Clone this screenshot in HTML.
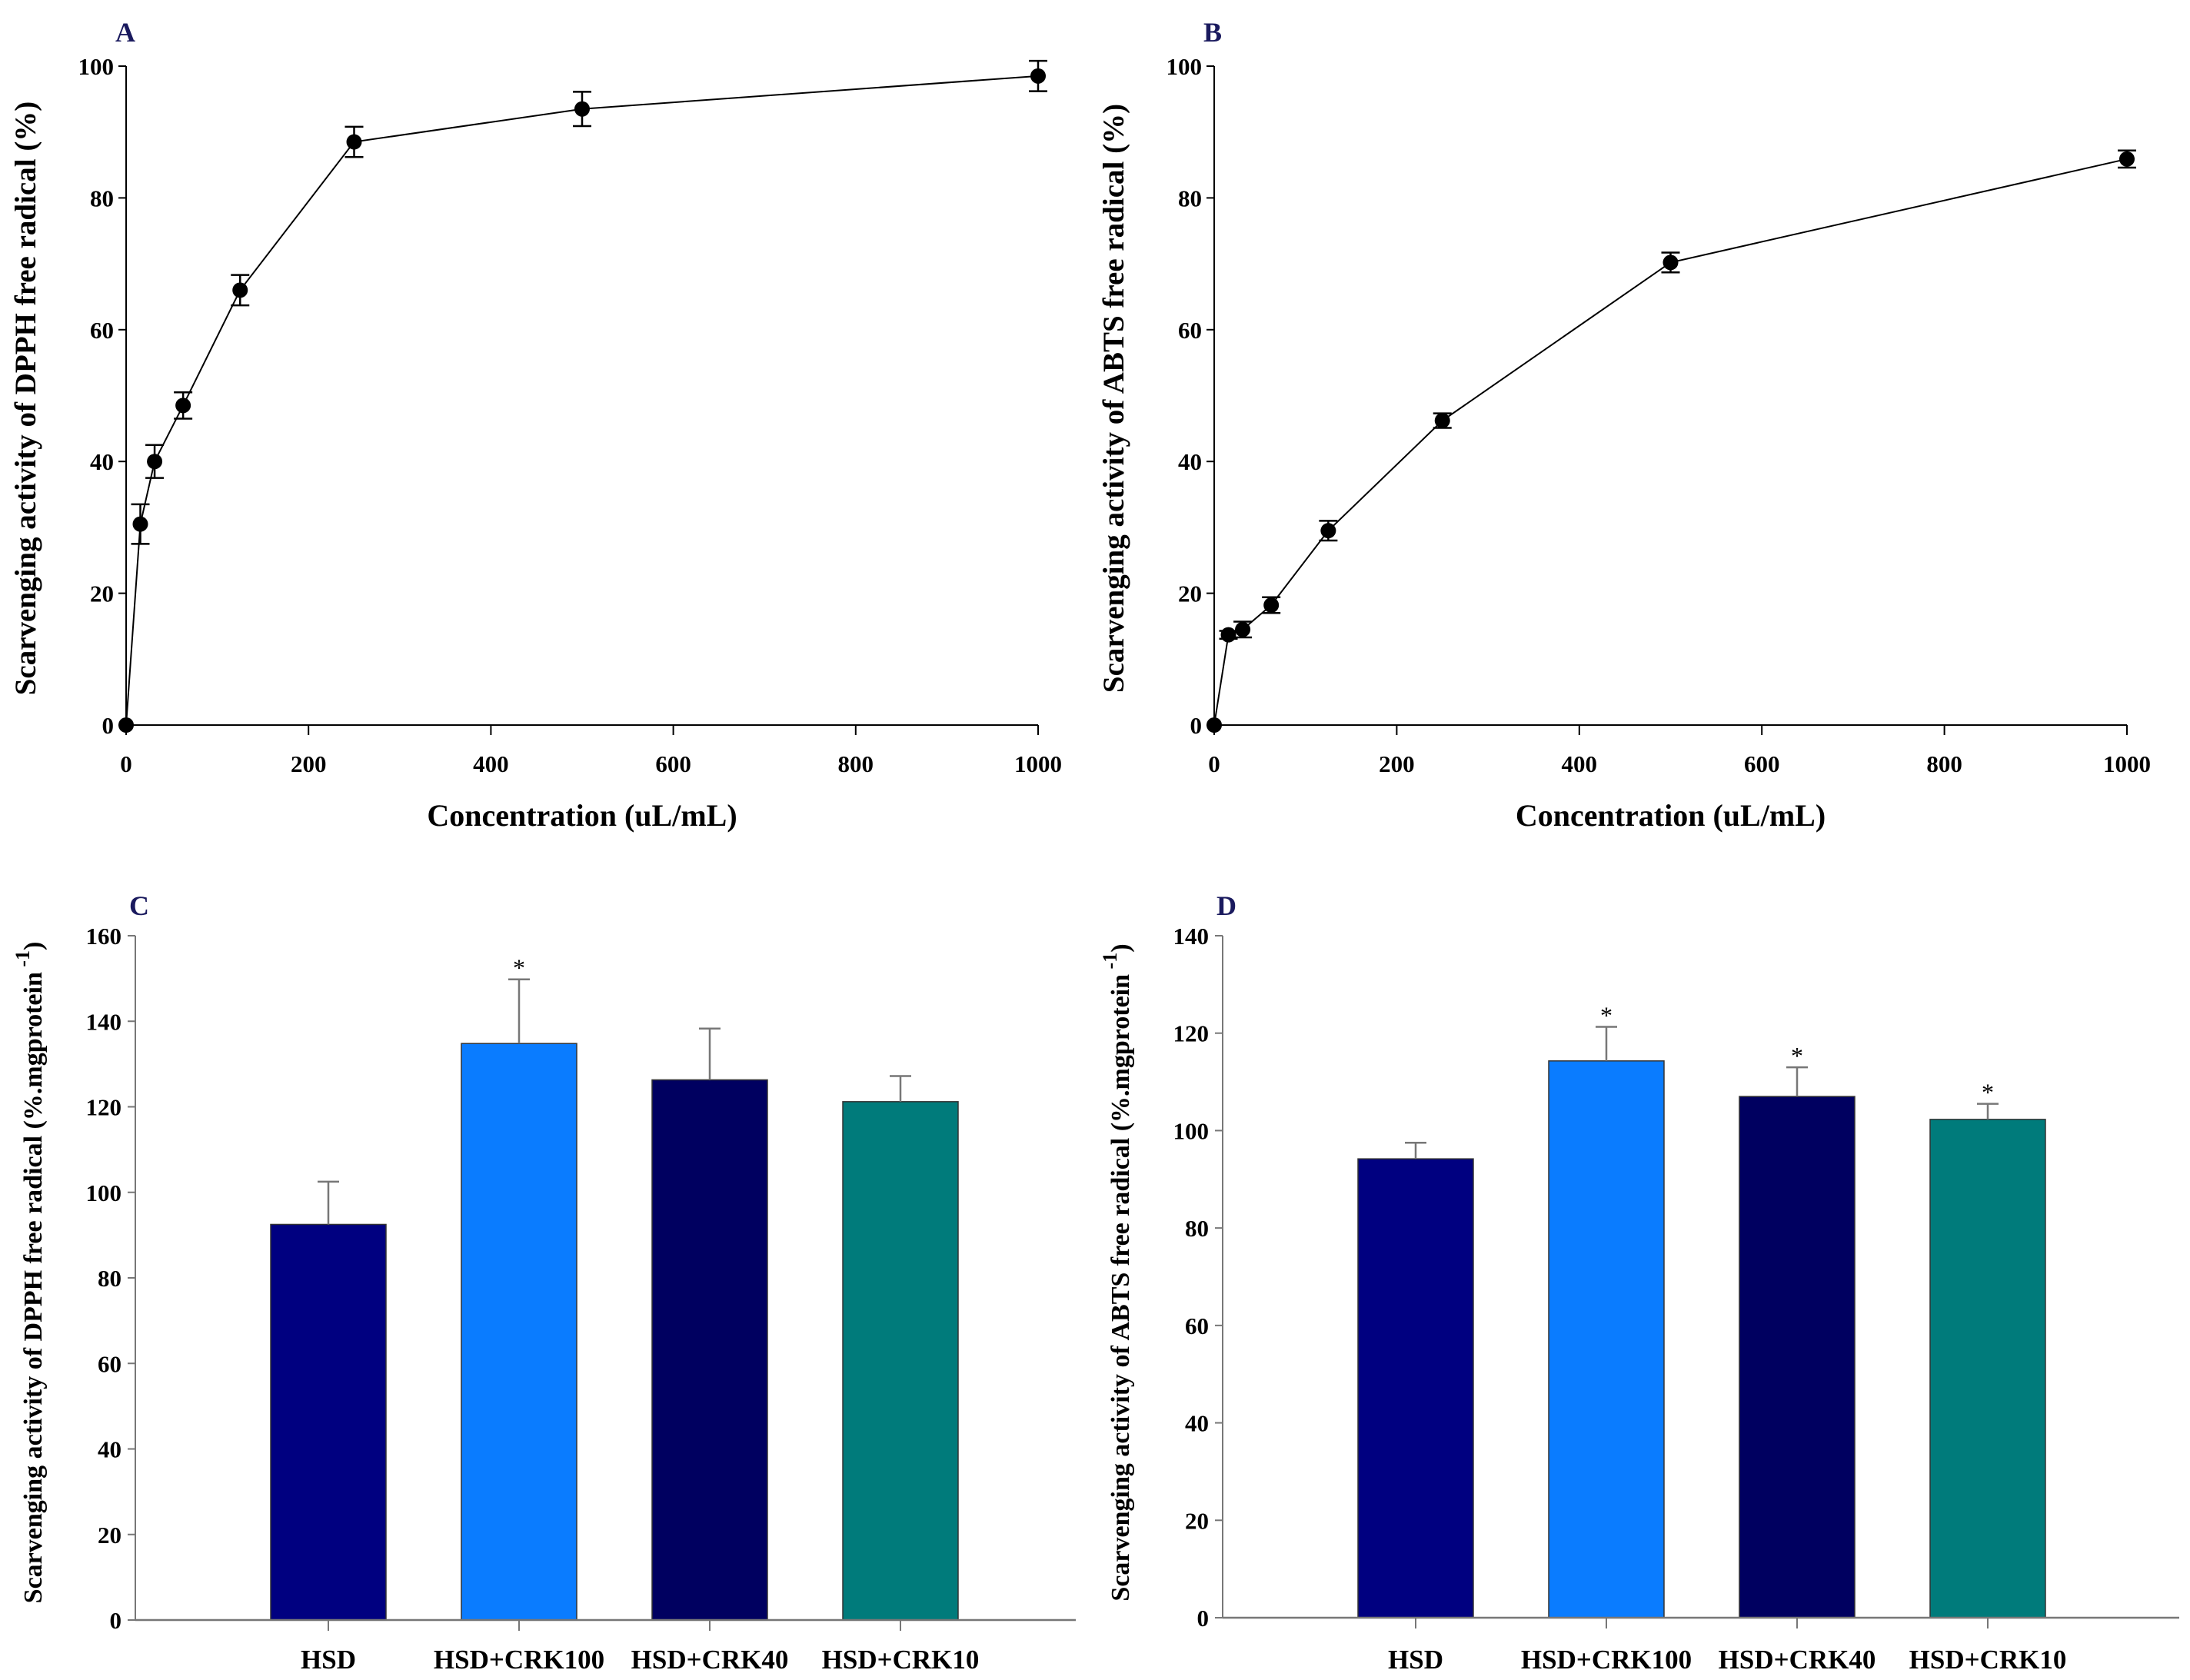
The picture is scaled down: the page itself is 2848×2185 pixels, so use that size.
<!DOCTYPE html>
<html><head><meta charset="utf-8"><style>
html,body{margin:0;padding:0;background:#fff}
svg{display:block;font-family:"Liberation Serif",serif;font-weight:bold}
</style></head><body>
<svg id="fig" xmlns="http://www.w3.org/2000/svg" width="2848" height="2185" viewBox="0 0 2848 2185">
<rect width="2848" height="2185" fill="#fff"/>
<g id="root"></g>
</svg>
<script>
const concX = [0, 15.6, 31.25, 62.5, 125, 250, 500, 1000];
const dpphVals = [0, 30.5, 40, 48.5, 66, 88.5, 93.5, 98.5];
const dpphErr = [0, 3, 2.5, 2, 2.3, 2.3, 2.6, 2.3];
const abtsVals = [0, 13.7, 14.5, 18.2, 29.5, 46.2, 70.2, 85.9];
const abtsErr = [0, 0.6, 1.2, 1.2, 1.5, 1.1, 1.5, 1.3];
const xTicks = [0, 200, 400, 600, 800, 1000];
const yTicksLine = [0, 20, 40, 60, 80, 100];
const groups = ["HSD", "HSD+CRK100", "HSD+CRK40", "HSD+CRK10"];
const dpphBar = [92.5, 134.8, 126.3, 121.2];
const dpphBarErr = [10, 15, 12, 6];
const dpphSig = [false, true, false, false];
const abtsBar = [94.2, 114.3, 107, 102.3];
const abtsBarErr = [3.3, 7, 6, 3.2];
const abtsSig = [false, true, true, true];
const yTicksC = [0, 20, 40, 60, 80, 100, 120, 140, 160];
const yTicksD = [0, 20, 40, 60, 80, 100, 120, 140];
const barColors = ["#000080", "#0a7cff", "#000060", "#007b7b"];

const NS = "http://www.w3.org/2000/svg";
const root = document.getElementById("root");
function mk(tag, attrs, parent, text) {
  const e = document.createElementNS(NS, tag);
  for (const k in attrs) e.setAttribute(k, attrs[k]);
  if (text !== undefined) e.textContent = text;
  (parent || root).appendChild(e);
  return e;
}

function linePanel(name, letter, ox, x1000, vals, errs, ytitle) {
  const g = mk("g", {});
  
  
  const y0 = 943, y100 = 86;
  const X = v => ox + (x1000 - ox) * v / 1000;
  const Y = v => y0 + (y100 - y0) * v / 100;
  const lt = mk("text", {x: ox - 14, y: 54, fill: "#1a1a5e", "font-size": 36}, g, letter);
  
  
  const ya = mk("line", {x1: ox, y1: y0, x2: ox, y2: y100, stroke: "#000", "stroke-width": 2}, g);
  
  
  const xa = mk("line", {x1: ox, y1: y0, x2: x1000, y2: y0, stroke: "#000", "stroke-width": 2}, g);
  
  
  yTicksLine.forEach(t => {
    mk("line", {x1: ox - 10, y1: Y(t), x2: ox, y2: Y(t), stroke: "#000", "stroke-width": 2}, g);
    const tl = mk("text", {x: ox - 16, y: Y(t) + 11, "text-anchor": "end", "font-size": 31}, g, t);
    
    
  });
  xTicks.forEach(t => {
    mk("line", {x1: X(t), y1: y0, x2: X(t), y2: y0 + 13, stroke: "#000", "stroke-width": 2}, g);
    const tl = mk("text", {x: X(t), y: 1004, "text-anchor": "middle", "font-size": 31}, g, t);
    
    
  });
  const xt = mk("text", {x: (ox + x1000) / 2, y: 1074, "text-anchor": "middle", "font-size": 40}, g, "Concentration (uL/mL)");
  
  
  const cx = ox - 118, cy = 518;
  const yt = mk("text", {x: cx, y: cy, "text-anchor": "middle", "font-size": 39, transform: `rotate(-90 ${cx} ${cy})`}, g, ytitle);
  
  
  const pts = concX.map((c, i) => X(c) + "," + Y(vals[i])).join(" ");
  const pl = mk("polyline", {points: pts, fill: "none", stroke: "#000", "stroke-width": 2}, g);
  
  
  concX.forEach((c, i) => {
    const x = X(c), e = errs[i];
    if (e > 0) {
      const eb = mk("path", {d: `M${x} ${Y(vals[i] - e)}V${Y(vals[i] + e)}M${x - 12} ${Y(vals[i] + e)}h24M${x - 12} ${Y(vals[i] - e)}h24`, stroke: "#000", "stroke-width": 2.5, fill: "none"}, g);
      
      
    }
    const p = mk("circle", {cx: x, cy: Y(vals[i]), r: 10, fill: "#000"}, g);
    
    
  });
}

function barPanel(name, letter, ox, axEnd, y0, yTop, ymax, ticks, vals, errs, sig, ytitlePre) {
  const g = mk("g", {});
  
  
  const Y = v => y0 + (yTop - y0) * v / ymax;
  const step = 248, first = ox + 251, bw = 150;
  const lt = mk("text", {x: ox - 8, y: 1190, fill: "#1a1a5e", "font-size": 36}, g, letter);
  
  
  const ya = mk("line", {x1: ox, y1: y0, x2: ox, y2: yTop, stroke: "#777", "stroke-width": 2}, g);
  
  
  ticks.forEach(t => {
    mk("line", {x1: ox - 10, y1: Y(t), x2: ox, y2: Y(t), stroke: "#777", "stroke-width": 2}, g);
    const tl = mk("text", {x: ox - 18, y: Y(t) + 11, "text-anchor": "end", "font-size": 31}, g, t);
    
    
  });
  groups.forEach((gr, i) => {
    const cx = first + i * step;
    const b = mk("rect", {x: cx - bw / 2, y: Y(vals[i]), width: bw, height: y0 - Y(vals[i]), fill: barColors[i], stroke: "#333", "stroke-width": 1.5}, g);
    
    
    const top = Y(vals[i] + errs[i]);
    const eb = mk("path", {d: `M${cx} ${Y(vals[i])}V${top}M${cx - 14} ${top}h28`, stroke: "#777", "stroke-width": 2.5, fill: "none"}, g);
    
    
    if (sig[i]) {
      const s = mk("text", {x: cx, y: top - 4, "text-anchor": "middle", "font-size": 32, "font-weight": "normal"}, g, "*");
      
      
    }
    mk("line", {x1: cx, y1: y0, x2: cx, y2: y0 + 14, stroke: "#777", "stroke-width": 2}, g);
    const cl = mk("text", {x: cx, y: 2170, "text-anchor": "middle", "font-size": 35}, g, gr);
    
    
  });
  const xa = mk("line", {x1: ox, y1: y0, x2: axEnd, y2: y0, stroke: "#777", "stroke-width": 2.5}, g);
  
  
  const cx = ox - 122, cy = 1655;
  const yt = mk("text", {x: cx, y: cy, "text-anchor": "middle", "font-size": 34, transform: `rotate(-90 ${cx} ${cy})`}, g);
  
  
  mk("tspan", {}, yt, ytitlePre + " (%.mgprotein");
  mk("tspan", {dy: -16, "font-size": 26}, yt, " -1");
  mk("tspan", {dy: 16}, yt, ")");
}

linePanel("panel-a-dpph-line", "A", 164, 1350, dpphVals, dpphErr, "Scarvenging activity of DPPH free radical (%)");
linePanel("panel-b-abts-line", "B", 1579, 2766, abtsVals, abtsErr, "Scarvenging activity of ABTS free radical (%)");
barPanel("panel-c-dpph-bars", "C", 176, 1399, 2107, 1217, 160, yTicksC, dpphBar, dpphBarErr, dpphSig, "Scarvenging activity of DPPH free radical");
barPanel("panel-d-abts-bars", "D", 1590, 2834, 2104, 1217, 140, yTicksD, abtsBar, abtsBarErr, abtsSig, "Scarvenging activity of ABTS free radical");
</script>
</body></html>
